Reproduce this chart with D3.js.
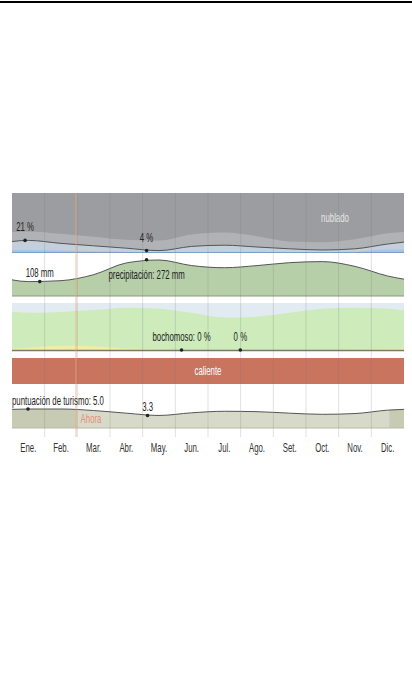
<!DOCTYPE html>
<html>
<head>
<meta charset="utf-8">
<script src="https://cdn.jsdelivr.net/npm/d3@7"></script>
<style>
body { margin: 0; background: #fff; }
svg { display: block; }
text { font-family: "Liberation Sans", Arial, sans-serif; font-size: 13px; fill: #222; }
</style>
</head>
<body>
<svg id="chart" width="412" height="678"></svg>
<script>
// month labels
var months = ["Ene.", "Feb.", "Mar.", "Abr.", "May.", "Jun.", "Jul.", "Ago.", "Set.", "Oct.", "Nov.", "Dic."];

// cloud cover, cumulative % from the bottom
var cloudClear = [5, 4, 3, 2, 1, 1, 2, 2, 1, 1, 2, 6];
var cloudMostlyClear = [21, 16, 12, 8, 4, 11, 13, 10, 7, 5, 7, 15];
var cloudPartly = [36, 32, 27, 22, 21, 31, 34, 28, 19, 18, 23, 33];

// precipitation, mm
var precipMm = [108, 115, 160, 248, 270, 228, 212, 228, 250, 258, 222, 150];

// humidity comfort, %
var humidDry = [21, 19, 15, 10, 12, 21, 31, 29, 21, 12, 10, 12];
var humidMuggy = [5, 9, 8, 3, 1, 0, 0, 0, 0, 0, 1, 2];

// tourism score
var tourismScore = [5.0, 5.0, 4.6, 3.9, 3.3, 4.0, 4.4, 4.3, 3.9, 3.6, 3.8, 4.7];
var bestPeriods = [[0, 1.98], [11.55, 12]];
var nowMonth = 1.96;

// labelled points (position in months, value, text)
var cloudNotes = [[0.4, 21, "21 %"], [4.12, 4, "4 %"]];
var precipNotes = [[0.85, 108, "108 mm"], [4.12, 272, "precipitación: 272 mm"]];
var muggyNotes = [[5.19, 0, "bochomoso: 0 %"], [6.99, 0, "0 %"]];
var tourNotes = [[0.49, 5.0, "puntuación de turismo: 5.0"], [4.15, 3.3, "3.3"]];

var svg = d3.select("#chart");
var L = 12, R = 404, SX = 0.6;

var x = d3.scaleLinear().domain([0, 12]).range([L, R]);
var cloudY = d3.scaleLinear().domain([0, 100]).range([253, 193]);
var precipY = d3.scaleLinear().domain([0, 300]).range([296, 256]);
var humY = d3.scaleLinear().domain([0, 100]).range([350, 303]);
var tourY = d3.scaleLinear().domain([0, 10]).range([428, 390]);

// wrap the year round so the curves meet the edges
function cyc(arr) {
  var pts = arr.map(function(v, i) { return {m: i + 0.5, v: v}; });
  pts.unshift({m: -0.5, v: arr[11]});
  pts.push({m: 12.5, v: arr[0]});
  return pts;
}

function clip(id, y0, y1) {
  svg.append("clipPath").attr("id", id)
    .append("rect").attr("x", L).attr("y", y0).attr("width", R - L).attr("height", y1 - y0);
}

function area(y) {
  return d3.area().curve(d3.curveMonotoneX)
    .x(function(d) { return x(d.m); })
    .y0(y(0)).y1(function(d) { return y(d.v); });
}
function line(y) {
  return d3.line().curve(d3.curveMonotoneX)
    .x(function(d) { return x(d.m); })
    .y(function(d) { return y(d.v); });
}

function label(g, cx, y, s, opts) {
  opts = opts || {};
  var t = g.append("text").text(s)
    .style("fill", opts.fill || "#222")
    .attr("text-anchor", "middle");
  var w = t.node().getComputedTextLength() * SX;
  if (!opts.noClamp) cx = Math.max(L + w / 2, Math.min(R - w / 2, cx));
  t.attr("transform", "translate(" + cx + "," + y + ") scale(" + SX + ",1)");
  return t;
}

function notes(g, list, y, dy) {
  list.forEach(function(n) {
    var px = x(n[0]), py = y(n[1]);
    g.append("circle").attr("cx", px).attr("cy", py).attr("r", 1.8).attr("fill", "#222");
    label(g, px, py + dy(n), n[2]);
  });
}

svg.append("rect").attr("x", 0).attr("y", 1).attr("width", 412).attr("height", 2).attr("fill", "#000");

// clouds
clip("cClip", 193, 253);
var cg = svg.append("g").attr("clip-path", "url(#cClip)");
cg.append("rect").attr("x", L).attr("y", 193).attr("width", R - L).attr("height", 60).attr("fill", "#9c9da0");
cg.append("path").datum(cyc(cloudPartly)).attr("d", area(cloudY)).attr("fill", "#b0b2b6");
cg.append("path").datum(cyc(cloudMostlyClear)).attr("d", area(cloudY)).attr("fill", "#c5cfdb");
cg.append("path").datum(cyc(cloudClear)).attr("d", area(cloudY)).attr("fill", "#a6c5e4");
cg.append("path").datum(cyc(cloudMostlyClear)).attr("d", line(cloudY))
  .attr("fill", "none").attr("stroke", "#555").attr("stroke-width", 1);
svg.append("line").attr("x1", L).attr("x2", R).attr("y1", 252.5).attr("y2", 252.5)
  .attr("stroke", "#7d9fc4").attr("stroke-width", 1);
label(svg, 335, 222, "nublado", {fill: "#e6e6e6"});

// precipitation
clip("pClip", 255, 296);
var pg = svg.append("g").attr("clip-path", "url(#pClip)");
pg.append("path").datum(cyc(precipMm)).attr("d", area(precipY)).attr("fill", "#b6cfa9");
pg.append("path").datum(cyc(precipMm)).attr("d", line(precipY))
  .attr("fill", "none").attr("stroke", "#555").attr("stroke-width", 1);
svg.append("line").attr("x1", L).attr("x2", R).attr("y1", 296).attr("y2", 296)
  .attr("stroke", "#8a9a80").attr("stroke-width", 1.2);

// humidity
clip("hClip", 303, 350);
var hg = svg.append("g").attr("clip-path", "url(#hClip)");
hg.append("rect").attr("x", L).attr("y", 303).attr("width", R - L).attr("height", 47).attr("fill", "#e2ebf1");
hg.append("path").datum(cyc(humidDry.map(function(v) { return 100 - v; })))
  .attr("d", area(humY)).attr("fill", "#cdebbb");
hg.append("path").datum(cyc(humidMuggy)).attr("d", area(humY)).attr("fill", "#f2eca6");
svg.append("line").attr("x1", L).attr("x2", R).attr("y1", 350.5).attr("y2", 350.5)
  .attr("stroke", "#7a7868").attr("stroke-width", 1.5);

// hot
svg.append("rect").attr("x", L).attr("y", 358).attr("width", R - L).attr("height", 26).attr("fill", "#c9745f");
label(svg, 208, 375, "caliente", {fill: "#fff"});

// tourism
svg.append("clipPath").attr("id", "tClip")
  .append("path").datum(cyc(tourismScore)).attr("d", area(tourY));
clip("tBand", 388, 428);
var tg = svg.append("g").attr("clip-path", "url(#tBand)");
var tf = tg.append("g").attr("clip-path", "url(#tClip)");
tf.append("rect").attr("x", L).attr("y", 388).attr("width", R - L).attr("height", 40).attr("fill", "#d8dac9");
bestPeriods.forEach(function(p) {
  tf.append("rect").attr("x", x(p[0])).attr("y", 388).attr("width", x(p[1]) - x(p[0]))
    .attr("height", 40).attr("fill", "#c8cbb3");
});
tg.append("path").datum(cyc(tourismScore)).attr("d", line(tourY))
  .attr("fill", "none").attr("stroke", "#555").attr("stroke-width", 1);
svg.append("line").attr("x1", L).attr("x2", R).attr("y1", 428).attr("y2", 428)
  .attr("stroke", "#b8baa8").attr("stroke-width", 1);

// month grid
svg.append("g").selectAll("line").data(d3.range(1, 12)).enter().append("line")
  .attr("x1", function(d) { return x(d); }).attr("x2", function(d) { return x(d); })
  .attr("y1", 193).attr("y2", 437)
  .attr("stroke", "#777").attr("stroke-opacity", 0.22).attr("stroke-width", 1);

// now marker
svg.append("line").attr("x1", x(nowMonth)).attr("x2", x(nowMonth)).attr("y1", 193).attr("y2", 437)
  .attr("stroke", "#f0a878").attr("stroke-opacity", 0.75).attr("stroke-width", 1);
label(svg, x(nowMonth) + 15, 423, "Ahora", {fill: "#e4907a", noClamp: true});

// annotations
var ng = svg.append("g");
notes(ng, cloudNotes, cloudY, function() { return -9; });
notes(ng, precipNotes, precipY, function(n) { return n[1] > 200 ? 19 : -5; });
notes(ng, muggyNotes, humY, function() { return -9; });
notes(ng, tourNotes, tourY, function() { return -4; });

// month labels
svg.append("g").selectAll("text").data(months).enter().append("text")
  .text(function(d) { return d; })
  .attr("text-anchor", "middle")
  .style("fill", "#333")
  .attr("transform", function(d, i) { return "translate(" + x(i + 0.5) + ",452) scale(" + SX + ",1)"; });
</script>
</body>
</html>
